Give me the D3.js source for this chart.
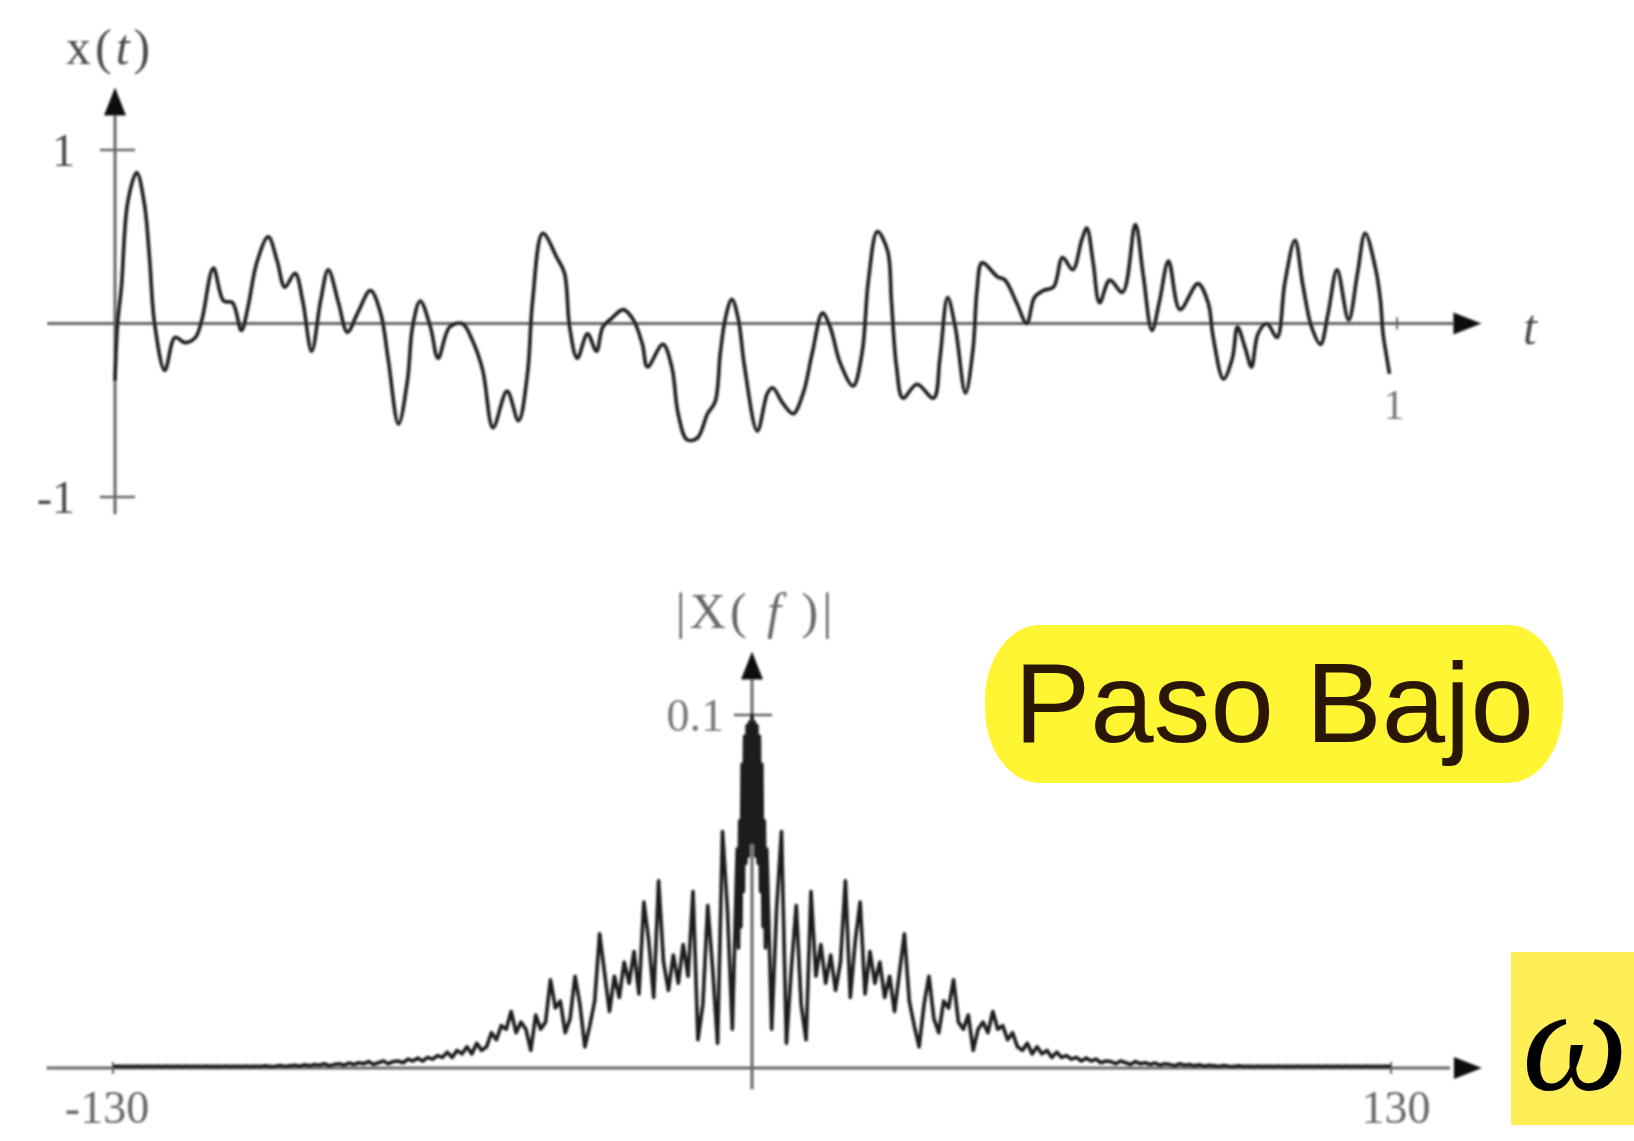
<!DOCTYPE html>
<html>
<head>
<meta charset="utf-8">
<script src="https://cdn.jsdelivr.net/npm/d3@7"></script>
<style>
  html, body { margin: 0; padding: 0; background: #fff; }
  svg { display: block; }
</style>
</head>
<body>
<script>
// x(t): sample times (0..1) and amplitudes
const signalT = [0.000, 0.002, 0.005, 0.010, 0.017, 0.023, 0.027, 0.031, 0.039, 0.047,
  0.055, 0.063, 0.068, 0.077, 0.085, 0.092, 0.099, 0.104, 0.111, 0.120,
  0.127, 0.133, 0.141, 0.147, 0.154, 0.161, 0.167, 0.175, 0.182, 0.190,
  0.200, 0.208, 0.214, 0.222, 0.229, 0.233, 0.239, 0.247, 0.253, 0.262,
  0.272, 0.280, 0.288, 0.296, 0.307, 0.316, 0.323, 0.327, 0.335, 0.346,
  0.352, 0.356, 0.362, 0.370, 0.377, 0.382, 0.389, 0.398, 0.406, 0.413,
  0.417, 0.429, 0.436, 0.441, 0.448, 0.456, 0.464, 0.470, 0.474, 0.478,
  0.483, 0.488, 0.493, 0.503, 0.511, 0.515, 0.523, 0.531, 0.539, 0.546,
  0.554, 0.560, 0.568, 0.578, 0.585, 0.590, 0.597, 0.605, 0.608, 0.612,
  0.617, 0.628, 0.641, 0.646, 0.652, 0.658, 0.666, 0.672, 0.675, 0.679,
  0.691, 0.697, 0.706, 0.714, 0.720, 0.727, 0.735, 0.742, 0.750, 0.757,
  0.761, 0.766, 0.771, 0.779, 0.789, 0.799, 0.805, 0.812, 0.818, 0.825,
  0.834, 0.848, 0.856, 0.860, 0.868, 0.875, 0.879, 0.885, 0.890, 0.895,
  0.902, 0.910, 0.916, 0.924, 0.930, 0.937, 0.944, 0.950, 0.957, 0.966,
  0.973, 0.979, 0.987, 0.991, 0.993, 0.996, 0.998];
const signalX = [-0.33, 0.00, 0.21, 0.70, 0.87, 0.69, 0.38, 0.00, -0.27, -0.08,
  -0.11, -0.08, 0.02, 0.32, 0.13, 0.12, -0.04, 0.09, 0.35, 0.50,
  0.36, 0.21, 0.29, 0.13, -0.16, 0.13, 0.31, 0.12, -0.05, 0.06,
  0.19, 0.06, -0.21, -0.58, -0.33, -0.02, 0.13, -0.02, -0.20, -0.02,
  0.00, -0.10, -0.27, -0.60, -0.39, -0.56, -0.29, 0.13, 0.52, 0.38,
  0.29, -0.02, -0.20, -0.06, -0.16, -0.02, 0.03, 0.08, 0.02, -0.12,
  -0.25, -0.12, -0.25, -0.52, -0.67, -0.66, -0.52, -0.45, -0.17, 0.03,
  0.14, 0.03, -0.25, -0.62, -0.40, -0.37, -0.46, -0.52, -0.40, -0.17,
  0.06, -0.02, -0.23, -0.36, -0.17, 0.25, 0.53, 0.42, 0.13, -0.25,
  -0.43, -0.35, -0.43, -0.20, 0.15, -0.02, -0.40, -0.14, 0.19, 0.35,
  0.27, 0.25, 0.12, 0.00, 0.15, 0.19, 0.21, 0.38, 0.31, 0.48,
  0.55, 0.35, 0.12, 0.25, 0.18, 0.57, 0.29, -0.04, 0.13, 0.36,
  0.08, 0.23, 0.12, -0.08, -0.32, -0.20, -0.02, -0.14, -0.25, -0.06,
  0.00, -0.08, 0.23, 0.48, 0.23, -0.02, -0.12, 0.06, 0.31, 0.02,
  0.29, 0.52, 0.32, 0.13, -0.06, -0.20, -0.29];

// |X(f)| near the centre, finer steps (the dark block around f = 0)
const centerF   = [0, 0.25, 0.5, 0.75, 1, 1.25, 1.5, 1.75, 2, 2.25, 2.5, 2.75];
const centerMag = [0.100, 0.064, 0.098, 0.060, 0.097, 0.058, 0.094, 0.050, 0.086, 0.040, 0.070, 0.034];

// |X(f)| for f = 3..130, the spectrum is mirrored for negative f
const spectrumMag = [0.062, 0.011, 0.045, 0.067, 0.007, 0.028, 0.046,
  0.018, 0.008, 0.050, 0.026, 0.035, 0.024, 0.032, 0.022, 0.030, 0.053,
  0.020, 0.036, 0.047, 0.021, 0.033, 0.024, 0.030, 0.020, 0.026, 0.016,
  0.027, 0.038, 0.019, 0.012, 0.006, 0.018, 0.026, 0.014, 0.010, 0.019,
  0.017, 0.025, 0.013, 0.011, 0.015, 0.005, 0.011, 0.013, 0.010, 0.016,
  0.011, 0.012, 0.008, 0.010, 0.006, 0.005, 0.007, 0.004, 0.006, 0.004,
  0.005, 0.003, 0.0045, 0.003, 0.0035, 0.0025, 0.003, 0.002, 0.0028, 0.002,
  0.0025, 0.0015, 0.002, 0.0018, 0.0012, 0.002, 0.0015, 0.001, 0.0018, 0.0012,
  0.0015, 0.001, 0.0014, 0.0008, 0.0012, 0.001, 0.0006, 0.0012, 0.0008, 0.001,
  0.0006, 0.0009, 0.0005, 0.0008, 0.0006, 0.0004, 0.0007, 0.0005, 0.0004, 0.0006,
  0.0004, 0.0005, 0.0004, 0.0005, 0.0004, 0.0005, 0.0004, 0.0005, 0.0004, 0.0005,
  0.0004, 0.0005, 0.0004, 0.0005, 0.0004, 0.0005, 0.0004, 0.0005, 0.0004, 0.0005,
  0.0004, 0.0005, 0.0004, 0.0005, 0.0004, 0.0005, 0.0004, 0.0005, 0.0004, 0.0005,
  0.0004];

const ampTicks = [1, -1];
const timeTicks = [1];
const freqTicks = [-130, 130];
const magTicks = [0.1];

const W = 1634, H = 1141;
const axisColor = "#666", textColor = "#4a4a4a", curveColor = "#1a1a1a";
const serif = "'Liberation Serif', 'DejaVu Serif', serif";

const svg = d3.select("body").append("svg")
    .attr("width", W)
    .attr("height", H);

const defs = svg.append("defs");
defs.append("filter").attr("id", "soft")
  .append("feGaussianBlur").attr("stdDeviation", 0.9);

function arrowHead(g, x, y, dir) {
    // dir: "right" or "up"
    const L = 28, hw = 11;
    const pts = dir === "right"
        ? [[x, y], [x - L, y - hw], [x - L, y + hw]]
        : [[x, y], [x - hw, y + L], [x + hw, y + L]];
    g.append("path")
        .attr("d", d3.line()(pts) + "Z")
        .attr("fill", "#111");
}

// ---------- top: x(t) ----------
const tx = d3.scaleLinear().domain([0, 1]).range([115, 1392]);
const ty = d3.scaleLinear().domain([-1, 1]).range([497, 150]);

const gTop = svg.append("g").attr("filter", "url(#soft)");

gTop.append("line")
    .attr("x1", tx(-0.053)).attr("x2", tx(1.06))
    .attr("y1", ty(0)).attr("y2", ty(0))
    .attr("stroke", axisColor).attr("stroke-width", 3);
arrowHead(gTop, tx(1.07), ty(0), "right");

gTop.append("line")
    .attr("x1", tx(0)).attr("x2", tx(0))
    .attr("y1", ty(-1.1)).attr("y2", ty(1.3))
    .attr("stroke", axisColor).attr("stroke-width", 3);
arrowHead(gTop, tx(0), ty(1.36), "up");

gTop.selectAll(".ampTick").data(ampTicks).enter().append("line")
    .attr("x1", tx(0) - 15).attr("x2", tx(0) + 20)
    .attr("y1", d => ty(d)).attr("y2", d => ty(d))
    .attr("stroke", axisColor).attr("stroke-width", 2.5);

gTop.selectAll(".ampLabel").data(ampTicks).enter().append("text")
    .attr("x", tx(0) - 40).attr("y", d => ty(d))
    .attr("dy", "0.35em")
    .attr("text-anchor", "end")
    .attr("font-family", serif).attr("font-size", 46)
    .attr("fill", textColor)
    .text(d => d);

gTop.selectAll(".timeTick").data(timeTicks).enter().append("line")
    .attr("x1", d => tx(d) + 5).attr("x2", d => tx(d) + 5)
    .attr("y1", ty(0) - 6).attr("y2", ty(0) + 6)
    .attr("stroke", axisColor).attr("stroke-width", 2);

gTop.selectAll(".timeLabel").data(timeTicks).enter().append("text")
    .attr("x", d => tx(d) + 2).attr("y", ty(0) + 95)
    .attr("text-anchor", "middle")
    .attr("font-family", serif).attr("font-size", 42)
    .attr("fill", "#777")
    .text(d => d);

gTop.append("text")
    .attr("x", 1530).attr("y", ty(0) + 20)
    .attr("text-anchor", "middle")
    .attr("font-family", serif).attr("font-size", 50)
    .attr("font-style", "italic")
    .attr("fill", textColor)
    .text("t");

const xLab = gTop.append("text")
    .attr("x", 66).attr("y", 64)
    .attr("font-family", serif).attr("font-size", 50)
    .attr("letter-spacing", 4)
    .attr("fill", textColor);
xLab.append("tspan").text("x(");
xLab.append("tspan").attr("font-style", "italic").text("t");
xLab.append("tspan").text(")");

const signal = signalT.map((t, i) => ({ t: t, v: signalX[i] }));
gTop.append("path")
    .datum(signal)
    .attr("fill", "none")
    .attr("stroke", curveColor)
    .attr("stroke-width", 3.6)
    .attr("stroke-linejoin", "round")
    .attr("d", d3.line()
        .x(d => tx(d.t))
        .y(d => ty(d.v))
        .curve(d3.curveCatmullRom.alpha(0.5)));

// ---------- bottom: |X(f)| ----------
const fx = d3.scaleLinear().domain([-130, 130]).range([113, 1391]);
const fy = d3.scaleLinear().domain([0, 0.1]).range([1068, 715]);

const gBot = svg.append("g").attr("filter", "url(#soft)");

gBot.append("line")
    .attr("x1", fx(-143.5)).attr("x2", fx(142))
    .attr("y1", fy(0)).attr("y2", fy(0))
    .attr("stroke", axisColor).attr("stroke-width", 3);
arrowHead(gBot, fx(148.5), fy(0), "right");

gBot.append("line")
    .attr("x1", fx(0)).attr("x2", fx(0))
    .attr("y1", fy(-0.006)).attr("y2", fy(0.112))
    .attr("stroke", axisColor).attr("stroke-width", 3);
arrowHead(gBot, fx(0), fy(0.118), "up");

gBot.selectAll(".magTick").data(magTicks).enter().append("line")
    .attr("x1", fx(0) - 18).attr("x2", fx(0) + 20)
    .attr("y1", d => fy(d)).attr("y2", d => fy(d))
    .attr("stroke", axisColor).attr("stroke-width", 2.5);

gBot.selectAll(".magLabel").data(magTicks).enter().append("text")
    .attr("x", fx(0) - 28).attr("y", d => fy(d))
    .attr("dy", "0.35em")
    .attr("text-anchor", "end")
    .attr("font-family", serif).attr("font-size", 46)
    .attr("fill", "#777")
    .text(d => d);

gBot.selectAll(".freqTick").data(freqTicks).enter().append("line")
    .attr("x1", d => fx(d)).attr("x2", d => fx(d))
    .attr("y1", fy(0) - 6).attr("y2", fy(0) + 6)
    .attr("stroke", axisColor).attr("stroke-width", 2);

gBot.selectAll(".freqLabel").data(freqTicks).enter().append("text")
    .attr("x", d => fx(d) + (d < 0 ? -6 : 5)).attr("y", fy(0) + 55)
    .attr("text-anchor", "middle")
    .attr("font-family", serif).attr("font-size", 46)
    .attr("fill", "#666")
    .text(d => d);

const XLab = gBot.append("text")
    .attr("x", fx(0) + 4).attr("y", 628)
    .attr("text-anchor", "middle")
    .attr("font-family", serif).attr("font-size", 50)
    .attr("letter-spacing", 4)
    .attr("fill", "#666");
XLab.append("tspan").text("|X( ");
XLab.append("tspan").attr("font-style", "italic").text("f");
XLab.append("tspan").text(" )|");

// positive half: fine centre samples then integer f = 3..130, mirrored to negative f
const half = centerF.map((f, i) => ({ f: f, v: centerMag[i] }))
    .concat(spectrumMag.map((v, i) => ({ f: i + 3, v: v })));
const spectrum = half.slice(1).reverse().map(d => ({ f: -d.f, v: d.v })).concat(half);

gBot.append("path")
    .datum(spectrum)
    .attr("fill", "none")
    .attr("stroke", curveColor)
    .attr("stroke-width", 3.6)
    .attr("stroke-linejoin", "round")
    .attr("d", d3.line().x(d => fx(d.f)).y(d => fy(d.v)));

// ---------- yellow labels ----------
svg.append("rect")
    .attr("x", 985).attr("y", 625)
    .attr("width", 578).attr("height", 158)
    .attr("rx", 55).attr("ry", 75)
    .attr("fill", "#fff533");

svg.append("text")
    .attr("x", 1274).attr("y", 742)
    .attr("text-anchor", "middle")
    .attr("font-family", "'Liberation Sans', Arial, sans-serif")
    .attr("font-size", 114)
    .attr("fill", "#2a1605")
    .text("Paso Bajo");

svg.append("rect")
    .attr("x", 1511).attr("y", 952)
    .attr("width", 123).attr("height", 173)
    .attr("fill", "#ffee55");

svg.append("text")
    .attr("x", 1575).attr("y", 1090)
    .attr("text-anchor", "middle")
    .attr("font-family", "'Liberation Serif', serif")
    .attr("font-style", "italic")
    .attr("font-size", 150)
    .attr("fill", "#000")
    .text("ω");
</script>
</body>
</html>
